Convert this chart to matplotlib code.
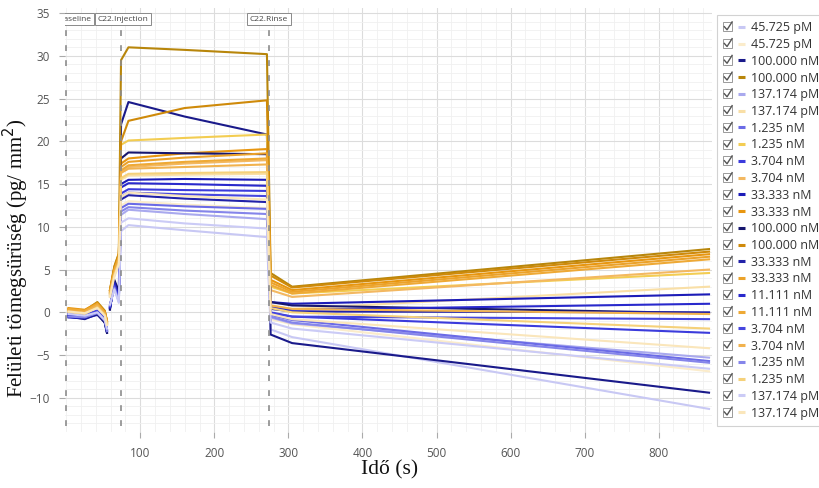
import numpy as np
import matplotlib
matplotlib.use("Agg")
import matplotlib.pyplot as plt
from matplotlib.ticker import MultipleLocator, FixedLocator
from matplotlib.legend_handler import HandlerBase
from matplotlib.patches import Rectangle
from matplotlib.lines import Line2D

# ---------------- data ----------------
labels = ["45.725 pM", "45.725 pM", "100.000 nM", "100.000 nM", "137.174 pM", "137.174 pM",
          "1.235 nM", "1.235 nM", "3.704 nM", "3.704 nM", "33.333 nM", "33.333 nM",
          "100.000 nM", "100.000 nM", "33.333 nM", "33.333 nM", "11.111 nM", "11.111 nM",
          "3.704 nM", "3.704 nM", "1.235 nM", "1.235 nM", "137.174 pM", "137.174 pM"]

colors = ["#c8c8f4", "#fbeccb", "#1a1a8a", "#b8860b", "#a9a9ee", "#f9dfa6",
          "#6b6be6", "#f3cd52", "#3b3bdc", "#f3b861", "#1c1cb8", "#e8960f",
          "#16166e", "#cf8a0a", "#2222a8", "#eba22a", "#2929cc", "#eea935",
          "#4646de", "#f1b24e", "#8585ea", "#f5d17a", "#cbcbf6", "#fae6bb"]

# time points (s)
t_base = [3, 25, 42, 52, 55]
t_trans = [59, 65, 71]
t_inj = [74, 84, 160, 271]
t_rinse = [276, 305, 868]

# baseline phase values
b_t3 = [-0.3, 0.1, -0.5, 0.4, -0.2, 0.2, -0.4, 0.3, -0.1, 0.0, -0.6, 0.5,
        -0.4, 0.3, -0.2, 0.1, -0.3, 0.4, -0.1, 0.2, -0.5, 0.0, -0.2, 0.1]
b_t25 = [-0.5, -0.1, -0.8, 0.2, -0.4, 0.0, -0.6, 0.1, -0.3, -0.2, -0.7, 0.3,
         -0.6, 0.2, -0.4, 0.0, -0.5, 0.2, -0.3, 0.0, -0.6, -0.2, -0.4, -0.1]
b_t42 = [0.0, 0.6, -0.2, 1.2, 0.1, 0.7, -0.1, 0.9, 0.2, 0.8, -0.3, 1.1,
         -0.2, 1.0, 0.0, 0.9, 0.1, 1.0, 0.2, 0.8, -0.1, 0.6, 0.0, 0.5]
b_t52 = [-0.9, -0.4, -1.2, 0.2, -0.8, -0.3, -1.0, 0.0, -0.7, -0.2, -1.1, 0.1,
         -1.2, 0.1, -0.9, -0.1, -0.8, 0.0, -0.7, -0.2, -1.0, -0.3, -0.9, -0.4]
b_t55 = [-2.0, -1.5, -2.4, -1.0, -2.0, -1.4, -2.2, -1.2, -2.1, -1.3, -2.3, -1.1,
         -2.4, -1.0, -2.2, -1.2, -2.1, -1.1, -2.0, -1.3, -2.2, -1.4, -1.9, -1.5]
# transient before injection
tr_t59 = [0.8, 1.8, 0.5, 2.6, 0.9, 2.0, 0.7, 2.3, 0.6, 2.2, 0.4, 2.5,
          0.3, 2.6, 0.5, 2.4, 0.6, 2.3, 0.7, 2.1, 0.8, 1.9, 0.9, 1.8]
tr_t65 = [2.8, 4.2, 3.6, 5.4, 3.0, 4.5, 3.2, 4.9, 3.4, 4.7, 3.6, 5.2,
          3.8, 5.3, 3.5, 5.0, 3.3, 4.9, 3.1, 4.6, 2.9, 4.4, 2.7, 4.2]
tr_t71 = [1.2, 5.6, 2.2, 6.9, 1.4, 5.9, 1.6, 6.4, 1.8, 6.2, 2.0, 6.7,
          2.4, 6.8, 1.9, 6.5, 1.7, 6.4, 1.5, 6.0, 1.3, 5.8, 1.1, 5.6]
# injection phase
inj_t74 = [9.5, 12.5, 22.0, 29.5, 11.4, 15.5, 12.2, 19.6, 13.9, 16.5, 15.0, 17.4,
           18.0, 20.0, 13.2, 17.0, 14.6, 16.6, 13.5, 16.3, 11.8, 15.7, 10.5, 13.5]
inj_t84 = [10.2, 13.0, 24.6, 31.0, 12.0, 16.0, 12.7, 20.1, 14.4, 17.0, 15.5, 18.0,
           18.7, 22.4, 13.7, 17.6, 15.1, 17.2, 14.0, 16.8, 12.3, 16.2, 11.0, 14.0]
inj_t160 = [9.6, 12.6, 22.9, 30.7, 11.5, 16.1, 12.4, 20.4, 14.3, 17.4, 15.6, 18.6,
            18.6, 23.9, 13.3, 18.1, 15.0, 17.6, 13.8, 17.0, 11.9, 16.3, 10.4, 13.6]
inj_t271 = [8.8, 12.2, 20.8, 30.2, 10.9, 16.2, 12.1, 20.8, 14.2, 17.8, 15.5, 19.1,
            18.5, 24.8, 12.9, 18.6, 14.8, 18.0, 13.6, 17.3, 11.5, 16.4, 9.8, 13.2]
# rinse phase
rin_t276 = [-2.0, -0.8, -2.6, 4.6, -0.6, 0.8, -0.3, 3.0, 0.0, 2.6, 1.2, 3.8,
            1.2, 4.3, 0.4, 3.5, 0.6, 3.2, -0.1, 0.8, -0.5, 0.5, -1.2, -0.2]
rin_t305 = [-2.9, -1.4, -3.6, 3.0, -1.3, 0.4, -0.9, 2.2, -0.5, 1.8, 1.0, 2.6,
            0.8, 2.9, 0.1, 2.4, 0.3, 2.2, -0.5, 0.4, -1.2, 0.0, -1.9, -0.8]
rin_t868 = [-11.3, -6.9, -9.4, 7.4, -5.3, 3.0, -5.7, 4.6, -2.4, 5.0, 2.1, 6.8,
            -0.1, 7.1, 0.0, 6.5, 1.0, 6.2, -0.8, -0.2, -5.9, -1.9, -6.6, -4.2]

events_t = [0, 73.4, 273.3]
events_lbl = ["Baseline", "C22.Injection", "C22.Rinse"]
x_ticks = [100, 200, 300, 400, 500, 600, 700, 800]
y_ticks = [-10, -5, 0, 5, 10, 15, 20, 25, 30, 35]

# ---------------- figure ----------------
fig = plt.figure(figsize=(8.2, 4.88), dpi=100)
ax = fig.add_axes([65.5 / 820, 1 - 432 / 488, (712 - 65.5) / 820, (432 - 8) / 488])
ax.set_xlim(-1.0, 872)
ax.set_ylim(-14.0, 35.6)

handles = []
for i in range(len(labels)):
    xs = t_base + [np.nan] + t_trans + t_inj + t_rinse
    ys = ([b_t3[i], b_t25[i], b_t42[i], b_t52[i], b_t55[i]] + [np.nan]
          + [tr_t59[i], tr_t65[i], tr_t71[i]]
          + [inj_t74[i], inj_t84[i], inj_t160[i], inj_t271[i]]
          + [rin_t276[i], rin_t305[i], rin_t868[i]])
    ln, = ax.plot(xs, ys, color=colors[i], lw=1.5, solid_joinstyle="round", zorder=3)
    handles.append(ln)

# grid
ax.xaxis.set_major_locator(FixedLocator(x_ticks))
ax.yaxis.set_major_locator(FixedLocator(y_ticks))
ax.xaxis.set_minor_locator(MultipleLocator(20))
ax.yaxis.set_minor_locator(MultipleLocator(1))
ax.grid(which="major", color="#dcdcdc", lw=0.8, zorder=0)
ax.grid(which="minor", color="#f0f0f0", lw=0.6, zorder=0)
ax.set_axisbelow(True)
for s in ax.spines.values():
    s.set_visible(False)
ax.tick_params(which="minor", length=0)
ax.tick_params(which="major", length=4, width=0.8, color="#aaaaaa", pad=7,
               labelsize=8.5, labelcolor="#555555")
for lab in ax.get_xticklabels() + ax.get_yticklabels():
    lab.set_family("Open Sans")

# event lines and labels
for t, lbl in zip(events_t, events_lbl):
    ax.axvline(t, ymin=0.015, ymax=0.955, color="#8c8c8c", lw=1.2,
               linestyle=(0, (3.5, 5.5)), zorder=4)
ax.text(34, 0.974, events_lbl[0], transform=ax.get_xaxis_transform(), ha="right", va="center",
        fontsize=6, color="#444444", family="Open Sans", clip_on=True, zorder=6,
        bbox=dict(boxstyle="square,pad=0.35", fc="white", ec="#8a8a8a", lw=0.7))
for t, lbl in zip(events_t[1:], events_lbl[1:]):
    ax.text(t + (3 if lbl.endswith("Injection") else 0), 0.974, lbl,
            transform=ax.get_xaxis_transform(), ha="center", va="center",
            fontsize=6, color="#444444", family="Open Sans", zorder=6,
            bbox=dict(boxstyle="square,pad=0.35", fc="white", ec="#8a8a8a", lw=0.7))

# axis titles
fig.text(390 / 820, 1 - 470 / 488, "Idő (s)", ha="center", va="center",
         family="Liberation Serif", fontsize=15.5, color="#111111")
fig.text(16 / 820, 1 - 258 / 488, "Felületi tömegsürüség (pg/ mm$^2$)", ha="center", va="center",
         rotation=90, family="Liberation Serif", fontsize=15, color="#111111")


# legend with checkbox handles
class CheckHandler(HandlerBase):
    def create_artists(self, legend, orig_handle, xdescent, ydescent, width, height,
                       fontsize, trans):
        s = 6.5
        yc = height / 2 - ydescent
        x0 = -xdescent
        box = Rectangle((x0, yc - s / 2), s, s, facecolor="white", edgecolor="#9a9a9a",
                        lw=0.7, transform=trans)
        chk = Line2D([x0 + 0.12 * s, x0 + 0.42 * s, x0 + 0.98 * s],
                     [yc + 0.02 * s, yc - 0.32 * s, yc + 0.55 * s],
                     color="#555555", lw=1.0, transform=trans)
        sw = Line2D([x0 + s + 4.3, x0 + s + 9.0], [yc, yc], color=orig_handle.get_color(),
                    lw=2.2, solid_capstyle="butt", transform=trans)
        return [box, chk, sw]


leg = fig.legend(handles, labels, loc="upper left",
                 bbox_to_anchor=(717 / 820, 1 - 15 / 488), bbox_transform=fig.transFigure,
                 borderaxespad=0, frameon=True, fancybox=False, edgecolor="#d2d2d2",
                 framealpha=1, prop={"family": "Open Sans", "size": 9},
                 handler_map={Line2D: CheckHandler()}, handlelength=1.75, handletextpad=0.5,
                 labelspacing=0.3, borderpad=0.5)
leg.get_frame().set_linewidth(0.8)
for txt in leg.get_texts():
    txt.set_color("#333333")

fig.savefig("out.png", dpi=100, facecolor="white")
